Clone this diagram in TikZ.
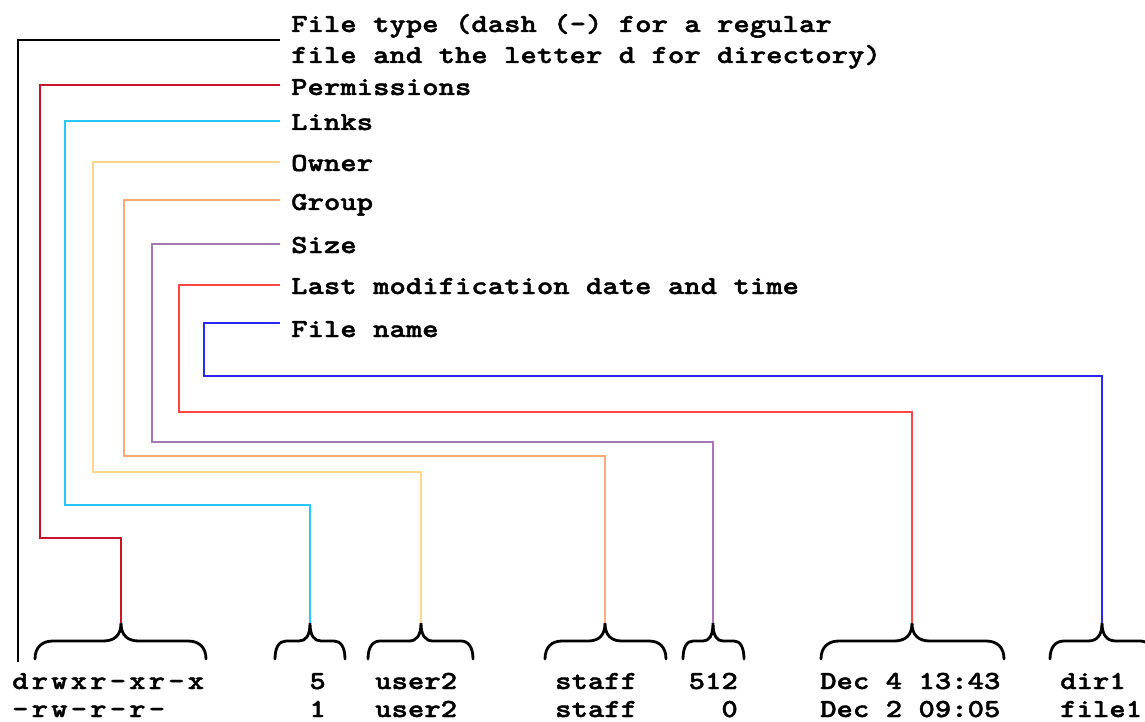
\documentclass[tikz,border=0pt]{standalone}
\usepackage{fontspec}
\newfontfamily\courbold[Extension=.otf,FakeStretch=1.2,FakeBold=1.6]{lmmonolt10-bold}
\newfontfamily\courspaced[Extension=.otf,FakeStretch=1.2,FakeBold=1.6,LetterSpace=12]{lmmonolt10-bold}

\definecolor{cperm}{RGB}{200,20,45}
\definecolor{clinks}{RGB}{40,200,255}
\definecolor{cowner}{RGB}{255,215,135}
\definecolor{cgroup}{RGB}{255,170,120}
\definecolor{csize}{RGB}{165,120,180}
\definecolor{cmtime}{RGB}{255,70,70}
\definecolor{cname}{RGB}{40,40,255}

% curly brace opening downwards: left end, tip, right end, curl size
\newcommand\lsbrace[4]{%
  \draw[brc] (#1,659) .. controls (#1,647) and ({#1+0.4*#4},641) .. ({#1+#4},641)
    -- ({#2-#4},641) .. controls ({#2-0.4*#4},641) and (#2,636) .. (#2,623)
    .. controls (#2,636) and ({#2+0.4*#4},641) .. ({#2+#4},641)
    -- ({#3-#4},641) .. controls ({#3-0.4*#4},641) and (#3,647) .. (#3,659);
  \coordinate (t#2) at (#2,623);
}

\tikzset{
  lbl/.style={anchor=base west, inner sep=0pt, align=left,
    font=\courbold\fontsize{26}{31}\selectfont},
  val/.style={inner sep=0pt, font=\courbold\fontsize{26}{31}\selectfont},
  lead/.style={line width=2.6pt, line join=miter},
  brc/.style={line width=2.8pt, line cap=round, black},
}

\begin{document}
\begin{tikzpicture}[x=1pt, y=-1pt]
  \useasboundingbox (0,0) rectangle (1145,722);

  % field descriptions (a two-line node sits on its last baseline)
  \node[lbl] (ftype) at (291,63) {File type (dash (-) for a regular\\file and the letter d for directory)};
  \node[lbl] (perm)  at (291,95)  {Permissions};
  \node[lbl] (links) at (291,130) {Links};
  \node[lbl] (owner) at (291,171) {Owner};
  \node[lbl] (group) at (291,210) {Group};
  \node[lbl] (size)  at (291,253) {Size};
  \node[lbl] (mtime) at (291,294) {Last modification date and time};
  \node[lbl] (fname) at (291,337) {File name};

  % ls -l output
  \node[val, anchor=base west] (perm1) at (12,689) {\courspaced drwxr-xr-x};
  \node[val, anchor=base west] (perm2) at (12,717) {\courspaced -rw-r-r-};
  \node[val, anchor=base east] (links1) at (326,689) {5};
  \node[val, anchor=base east] (links2) at (326,717) {1};
  \node[val, anchor=base west] (owner1) at (375,689) {user2};
  \node[val, anchor=base west] (owner2) at (375,717) {user2};
  \node[val, anchor=base west] (group1) at (555,689) {staff};
  \node[val, anchor=base west] (group2) at (555,717) {staff};
  \node[val, anchor=base east] (size1) at (738,689) {512};
  \node[val, anchor=base east] (size2) at (738,717) {0};
  \node[val, anchor=base west] (mtime1) at (820,689) {Dec 4 13:43};
  \node[val, anchor=base west] (mtime2) at (820,717) {Dec 2 09:05};
  \node[val, anchor=base west] (name1) at (1060,689) {dir1};
  \node[val, anchor=base west] (name2) at (1060,717) {file1};

  % braces over the columns
  \lsbrace{35}{121}{206}{18}
  \lsbrace{275}{310}{345}{11}
  \lsbrace{368}{421}{473}{12}
  \lsbrace{545}{605}{666}{17}
  \lsbrace{683}{713}{744}{10}
  \lsbrace{821}{912}{1004}{18}
  \lsbrace{1050}{1102}{1154}{14}
  \coordinate (ttype) at (18,662);

  % leaders from descriptions to columns
  \draw[lead, black]  ([shift={(-11,-23)}]ftype.base west) -| (ttype);
  \draw[lead, cperm]  ([shift={(-11,-10)}]perm.base west)  -| (40,538)  -| (t121);
  \draw[lead, clinks] ([shift={(-11,-9)}]links.base west)  -| (65,505)  -| (t310);
  \draw[lead, cowner] ([shift={(-11,-9)}]owner.base west)  -| (93,472)  -| (t421);
  \draw[lead, cgroup] ([shift={(-11,-10)}]group.base west) -| (124,456) -| (t605);
  \draw[lead, csize]  ([shift={(-11,-9)}]size.base west)   -| (152,442) -| (t713);
  \draw[lead, cmtime] ([shift={(-11,-9)}]mtime.base west)  -| (179,412) -| (t912);
  \draw[lead, cname]  ([shift={(-11,-14)}]fname.base west) -| (204,376) -| (t1102);
\end{tikzpicture}
\end{document}
